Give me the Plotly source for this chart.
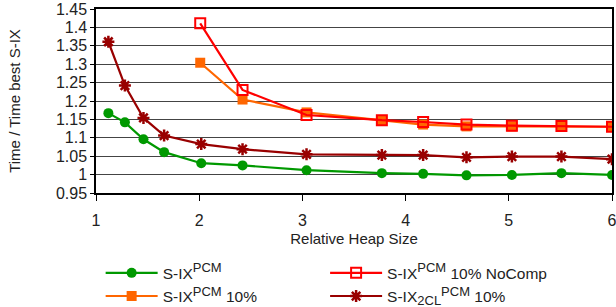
import plotly.graph_objects as go

heap = [1.12, 1.28, 1.46, 1.66, 2.02, 2.42, 3.04, 3.77, 4.17, 4.59, 5.03, 5.51, 6.0]
heap_10 = [2.01, 2.42, 3.04, 3.77, 4.17, 4.59, 5.03, 5.51, 6.0]

s_ix_pcm = [1.167, 1.142, 1.096, 1.061, 1.031, 1.025, 1.012, 1.004, 1.002, 0.998, 0.999, 1.004, 0.999]
s_ix_2cl = [1.361, 1.242, 1.154, 1.106, 1.083, 1.069, 1.055, 1.053, 1.053, 1.047, 1.049, 1.049, 1.042]
s_ix_10 = [1.304, 1.204, 1.169, 1.147, 1.136, 1.131, 1.131, 1.132, 1.130]
s_ix_nocomp = [1.411, 1.230, 1.162, 1.148, 1.143, 1.136, 1.133, 1.132, 1.130]

y_ticks = [0.95, 1, 1.05, 1.1, 1.15, 1.2, 1.25, 1.3, 1.35, 1.4, 1.45]
y_labels = ["0.95", "1", "1.05", "1.1", "1.15", "1.2", "1.25", "1.3", "1.35", "1.4", "1.45"]

FONT = "Liberation Sans, Arial, sans-serif"
SUP = "<sup><span style='font-size:13px'>PCM</span></sup>"

fig = go.Figure()
fig.add_trace(go.Scatter(x=heap, y=s_ix_pcm, mode="lines+markers", name="S-IX" + SUP,
                         line=dict(color="#009900", width=2.2),
                         marker=dict(symbol="circle", size=10, color="#009900"), legend="legend"))
fig.add_trace(go.Scatter(x=heap_10, y=s_ix_10, mode="lines+markers", name="S-IX" + SUP + " 10%",
                         line=dict(color="#FF6600", width=2.2),
                         marker=dict(symbol="square", size=10, color="#FF6600"), legend="legend"))
fig.add_trace(go.Scatter(x=heap_10, y=s_ix_nocomp, mode="lines+markers", name="S-IX" + SUP + " 10% NoComp",
                         line=dict(color="#FF0000", width=2.2),
                         marker=dict(symbol="square-open", size=10, color="#FF0000", line=dict(width=2)),
                         legend="legend2"))
fig.add_trace(go.Scatter(x=heap, y=s_ix_2cl, mode="lines+markers",
                         name="S-IX<sub><span style='font-size:13px'>2CL</span></sub>" + SUP + " 10%",
                         line=dict(color="#990000", width=2.2),
                         marker=dict(symbol="asterisk-open", size=10, color="#990000", line=dict(width=2.5, color="#990000")),
                         legend="legend2"))

fig.update_layout(
    width=616, height=307,
    margin=dict(l=96, r=4, t=9, b=114, autoexpand=False),
    paper_bgcolor="white", plot_bgcolor="white",
    font=dict(family=FONT, size=15, color="#222"),
    legend=dict(x=0.009, y=-0.344, xanchor="left", yanchor="top", bgcolor="rgba(0,0,0,0)",
                font=dict(size=15.5), tracegroupgap=0, itemwidth=52),
    legend2=dict(x=0.444, y=-0.344, xanchor="left", yanchor="top", bgcolor="rgba(0,0,0,0)",
                 font=dict(size=15.5), tracegroupgap=0, itemwidth=52),
)
fig.update_xaxes(range=[1, 6], tickvals=[1, 2, 3, 4, 5, 6], ticks="outside", ticklen=6,
                 tickcolor="#000", showline=True, linecolor="#000", linewidth=1.5, mirror=True,
                 showgrid=False, zeroline=False, automargin=False, ticklabeloverflow="allow",
                 ticklabelstandoff=6,
                 title=dict(text="Relative Heap Size", font=dict(size=15), standoff=6),
                 tickfont=dict(size=16))
fig.update_yaxes(range=[0.95, 1.45], tickvals=y_ticks, ticktext=y_labels, ticks="outside", ticklen=4,
                 tickcolor="#000", showline=True, linecolor="#000", linewidth=1.5, mirror=True,
                 showgrid=True, gridcolor="#444", gridwidth=1, zeroline=False, automargin=False,
                 ticklabeloverflow="allow",
                 title=dict(text="Time / Time best S-IX", font=dict(size=15), standoff=32),
                 tickfont=dict(size=16))

fig.write_html("out.html", config={"displayModeBar": False},
               post_script="document.body.style.margin='0';")
